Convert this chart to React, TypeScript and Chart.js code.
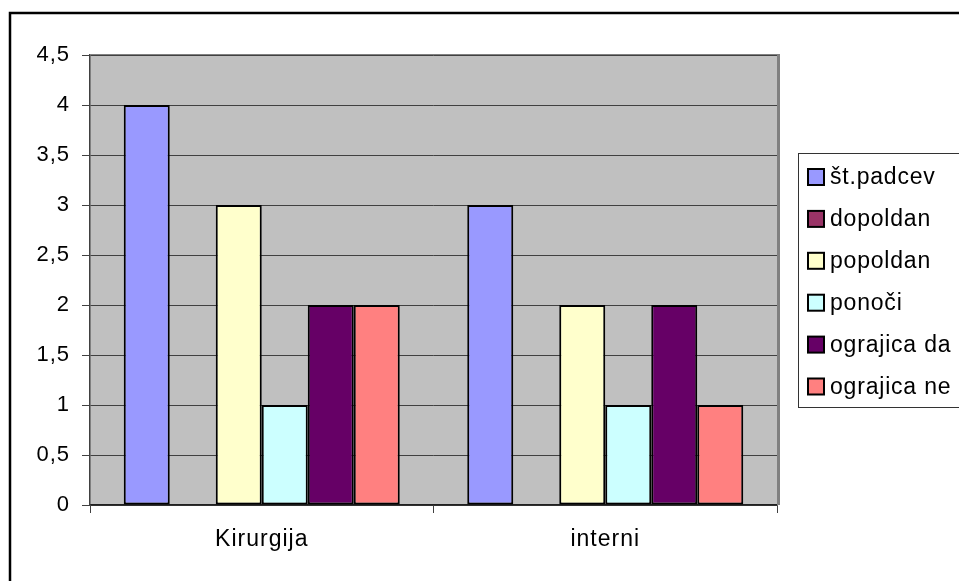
import React, { useEffect, useRef } from 'react';
import { Chart, registerables } from 'chart.js';

Chart.register(...registerables);

const categories = ['Kirurgija', 'interni'];
const seriesNames = ['št.padcev', 'dopoldan', 'popoldan', 'ponoči', 'ograjica da', 'ograjica ne'];
const stPadcev = [4, 3];
const dopoldan = [0, 0];
const popoldan = [3, 2];
const ponoci = [1, 1];
const ograjicaDa = [2, 2];
const ograjicaNe = [2, 1];
const seriesColors = ['#9999FF', '#993366', '#FFFFCC', '#CCFFFF', '#660066', '#FF8080'];
const yMin = 0;
const yMax = 4.5;
const yStep = 0.5;

const FONT = '"Liberation Sans", Arial, sans-serif';

const framePlugin = {
  id: 'frame',
  beforeDraw(chart: any) {
    const { ctx, width, height, chartArea } = chart;
    ctx.save();
    ctx.fillStyle = '#FFFFFF';
    ctx.fillRect(0, 0, width, height);
    ctx.strokeStyle = '#000000';
    ctx.lineWidth = 2.5;
    ctx.beginPath();
    ctx.moveTo(10, height + 5);
    ctx.lineTo(10, 13);
    ctx.lineTo(width + 5, 13);
    ctx.stroke();
    ctx.fillStyle = '#C0C0C0';
    ctx.fillRect(chartArea.left, chartArea.top, chartArea.right - chartArea.left, chartArea.bottom - chartArea.top);
    ctx.restore();
    (ctx as any).letterSpacing = '1px';
  },
  beforeDatasetsDraw(chart: any) {
    const { ctx, chartArea } = chart;
    ctx.save();
    ctx.strokeStyle = '#808080';
    ctx.lineWidth = 1;
    ctx.beginPath();
    ctx.moveTo(chartArea.left, chartArea.top - 0.5);
    ctx.lineTo(chartArea.right + 1, chartArea.top - 0.5);
    ctx.stroke();
    ctx.lineWidth = 3;
    ctx.beginPath();
    ctx.moveTo(chartArea.right + 1.5, chartArea.top - 1);
    ctx.lineTo(chartArea.right + 1.5, chartArea.bottom);
    ctx.stroke();
    ctx.restore();
  },
  afterDraw(chart: any) {
    const { ctx, width } = chart;
    const datasets = chart.data.datasets;
    ctx.save();
    (ctx as any).letterSpacing = '0.8px';
    const boxLeft = 798;
    const boxTop = 153;
    const boxBottom = 407;
    ctx.fillStyle = '#FFFFFF';
    ctx.fillRect(boxLeft, boxTop, width - boxLeft + 10, boxBottom - boxTop);
    ctx.strokeStyle = '#333333';
    ctx.lineWidth = 1;
    ctx.strokeRect(boxLeft + 0.5, boxTop + 0.5, width - boxLeft + 10, boxBottom - boxTop);
    const rowStart = 177;
    const rowGap = 41.9;
    ctx.font = `23px ${FONT}`;
    ctx.textBaseline = 'middle';
    ctx.textAlign = 'left';
    datasets.forEach((ds: any, i: number) => {
      const cy = rowStart + i * rowGap;
      ctx.fillStyle = ds.backgroundColor;
      ctx.fillRect(808, cy - 8, 16, 16);
      ctx.lineWidth = 2;
      ctx.strokeStyle = '#000000';
      ctx.strokeRect(808, cy - 8, 16, 16);
      ctx.fillStyle = '#000000';
      ctx.fillText(ds.label, 830, cy + 1);
    });
    ctx.restore();
  },
};

export default function App() {
  const canvasRef = useRef<HTMLCanvasElement | null>(null);

  useEffect(() => {
    if (!canvasRef.current) return;
    const values = [stPadcev, dopoldan, popoldan, ponoci, ograjicaDa, ograjicaNe];
    const chart = new Chart(canvasRef.current, {
      type: 'bar',
      data: {
        labels: categories,
        datasets: seriesNames.map((name, i) => ({
          label: name,
          data: values[i],
          backgroundColor: seriesColors[i],
          borderColor: '#000000',
          borderWidth: 2,
          borderSkipped: false,
          categoryPercentage: 0.8035,
          barPercentage: 1,
        })),
      },
      options: {
        animation: false,
        responsive: true,
        maintainAspectRatio: false,
        layout: { padding: { top: 55, right: 182, bottom: 0, left: 0 } },
        plugins: {
          legend: { display: false },
          tooltip: { enabled: false },
        },
        scales: {
          x: {
            offset: true,
            grid: {
              offset: true,
              drawOnChartArea: false,
              drawTicks: true,
              tickLength: 8,
              color: '#404040',
            },
            border: { color: '#202020', width: 1.5 },
            ticks: {
              color: '#000000',
              font: { family: FONT, size: 23 },
              padding: 13,
            },
            afterFit(scale: any) {
              scale.height = 76;
            },
          },
          y: {
            min: yMin,
            max: yMax,
            grid: {
              color: '#404040',
              tickLength: 8,
              lineWidth: 1,
            },
            border: { color: '#404040', width: 1.5 },
            ticks: {
              stepSize: yStep,
              color: '#000000',
              font: { family: FONT, size: 22 },
              padding: 12,
              callback: (v: any) => String(v).replace('.', ','),
            },
            afterFit(scale: any) {
              scale.width = 90;
            },
          },
        },
      },
      plugins: [framePlugin],
    });
    return () => chart.destroy();
  }, []);

  return (
    <div style={{ position: 'absolute', left: 0, top: 0, width: 959, height: 581 }}>
      <canvas ref={canvasRef} />
    </div>
  );
}
